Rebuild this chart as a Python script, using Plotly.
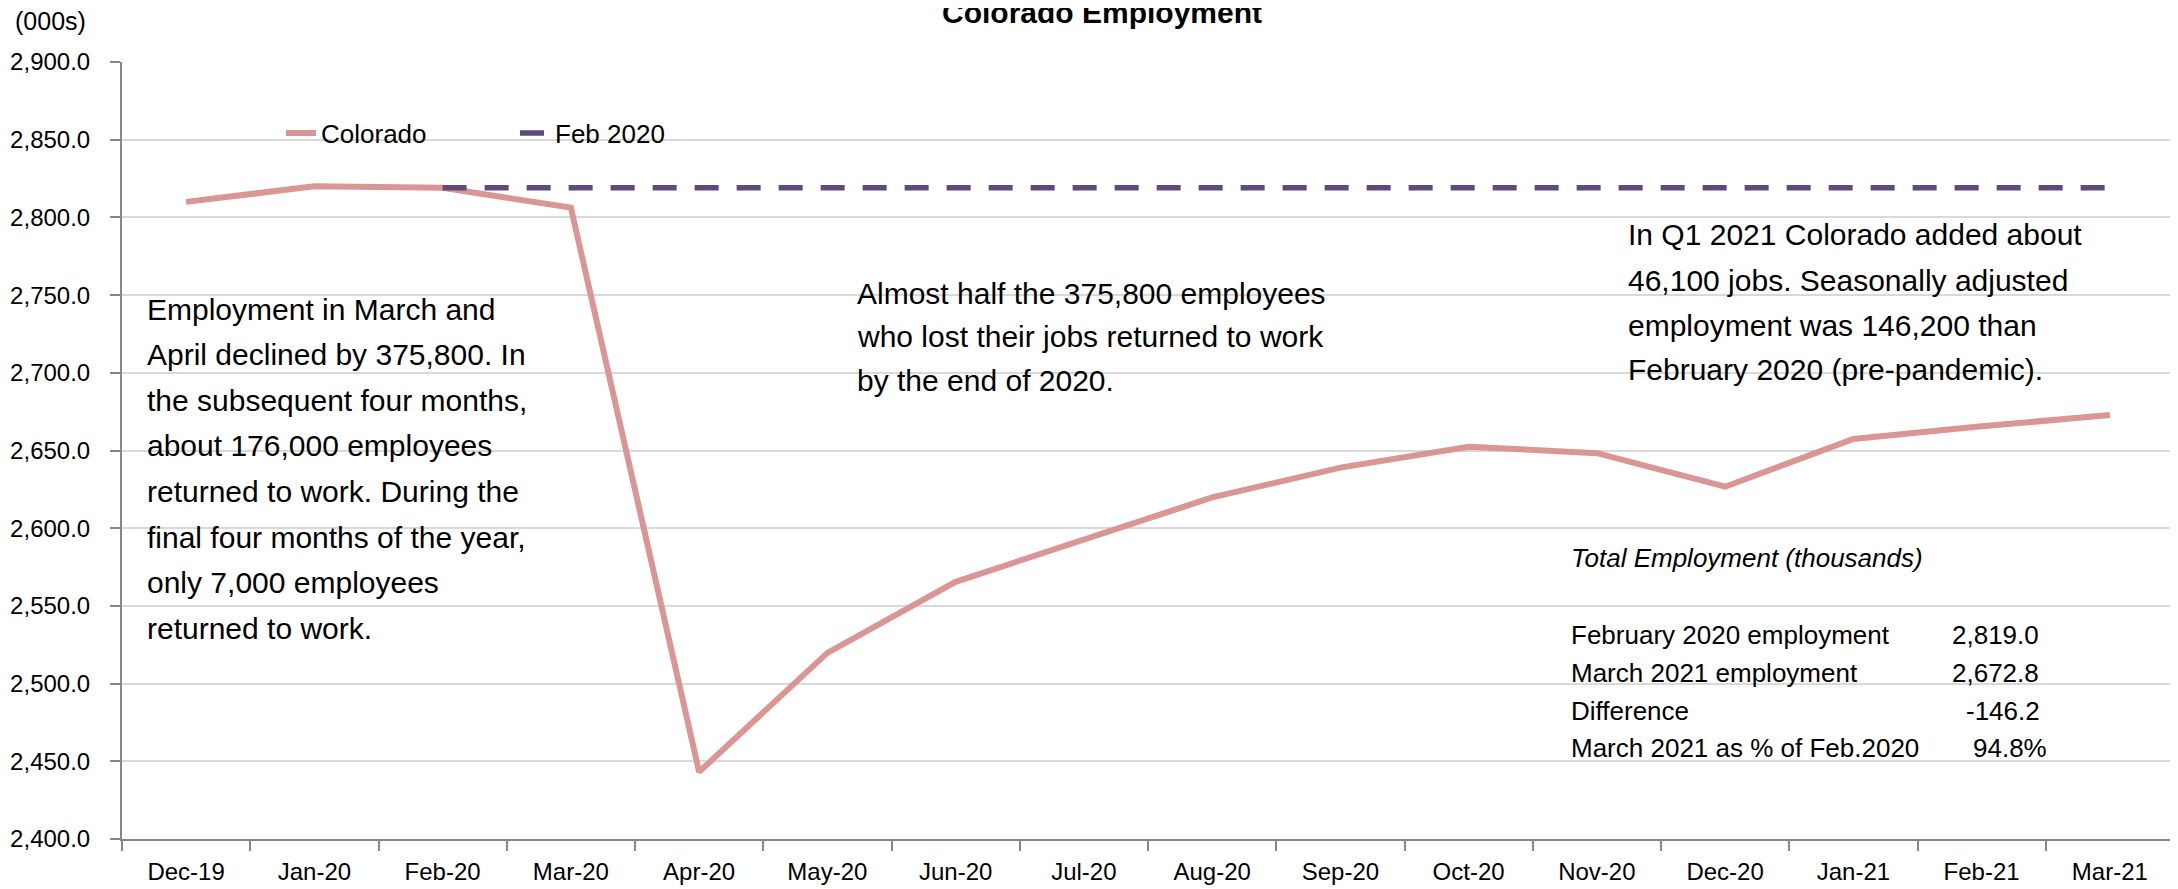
import plotly.graph_objects as go

# ---- data ----
months = ["Dec-19", "Jan-20", "Feb-20", "Mar-20", "Apr-20", "May-20", "Jun-20", "Jul-20",
          "Aug-20", "Sep-20", "Oct-20", "Nov-20", "Dec-20", "Jan-21", "Feb-21", "Mar-21"]
colorado = [2810.0, 2820.0, 2819.0, 2806.3, 2443.2, 2519.8, 2565.5, 2592.6,
            2619.8, 2639.0, 2652.4, 2648.3, 2626.7, 2657.4, 2665.6, 2672.8]
feb2020_months = months[2:]
feb2020_level = [2819.0] * len(feb2020_months)

title_text = "Colorado Employment"
unit_text = "(000s)"
note_left = ["Employment in March and", "April declined by 375,800. In",
             "the subsequent four months,", "about 176,000 employees",
             "returned to work. During the", "final four months of the year,",
             "only 7,000 employees", "returned to work."]
note_mid = ["Almost half the 375,800 employees", "who lost their jobs returned to work",
            "by the end of 2020."]
note_right = ["In Q1 2021 Colorado added about", "46,100 jobs. Seasonally adjusted",
              "employment was 146,200 than", "February 2020 (pre-pandemic)."]
table_title = "Total Employment (thousands)"
table_labels = ["February 2020 employment", "March 2021 employment", "Difference",
                "March 2021 as % of Feb.2020"]
feb_val = colorado[2]
mar_val = colorado[-1]
table_values = [f"{feb_val:,.1f}", f"{mar_val:,.1f}", f"{mar_val - feb_val:,.1f}",
                f"{mar_val / feb_val * 100:.1f}%"]

FONT = "Liberation Sans, Arial, sans-serif"
PINK = "#D99694"
PURPLE = "#604A7B"
AXIS = "#868686"
GRID = "#D9D9D9"

fig = go.Figure()
fig.add_trace(go.Scatter(x=months, y=colorado, mode="lines", name="Colorado",
                         line=dict(color=PINK, width=6)))
fig.add_trace(go.Scatter(x=feb2020_months, y=feb2020_level, mode="lines", name="Feb 2020",
                         line=dict(color=PURPLE, width=5.5, dash="24px,18px")))

W, H = 2178, 889
OFF = 8                      # page body offset of the rendered figure
SL, ST, SR, SB = 122, 62, 2174, 839   # plot box on screen
L, T = SL - OFF, ST - OFF
R = W - (SR - OFF)
B = H - (SB - OFF)
pw = SR - SL
ph = SB - ST

def px(xs):
    return (xs - SL) / pw

def py(ys):
    return 1 - (ys - ST) / ph

def txt(text, x, y, size, xanchor="left", italic=False):
    return dict(text=("<i>%s</i>" % text) if italic else text, xref="paper", yref="paper",
                x=px(x), y=py(y), xanchor=xanchor, yanchor="middle", align="left",
                showarrow=False, font=dict(size=size, color="black", family=FONT))

annotations = [txt(unit_text, 13, 21, 25)]
for lines, x0, y0, dy in [(note_left, 145, 309, 45.6), (note_mid, 855, 293, 43.5),
                          (note_right, 1626, 235, 45.0)]:
    for i, line in enumerate(lines):
        annotations.append(txt(line, x0, y0 + i * dy, 30))
annotations.append(txt(table_title, 1569, 558, 26, italic=True))
row_y = [635, 673, 711, 748]
val_right = [2041, 2041, 2042, 2049]
for lab, val, yc, xr in zip(table_labels, table_values, row_y, val_right):
    annotations.append(txt(lab, 1569, yc, 26))
    annotations.append(txt(val, xr, yc, 26, xanchor="right"))

fig.update_layout(
    width=W, height=H,
    margin=dict(l=L, r=R, t=T, b=B, pad=0),
    paper_bgcolor="white", plot_bgcolor="white",
    font=dict(family=FONT, color="black", size=24),
    title=dict(text="<b>" + title_text + "</b>", x=(1102 - OFF) / W, xanchor="center",
               xref="container", y=1 - (12 - OFF) / H, yref="container", yanchor="middle",
               font=dict(size=30, family=FONT, color="black")),
    showlegend=True,
    legend=dict(orientation="h", x=px(281), y=py(133), xanchor="left", yanchor="middle",
                font=dict(size=26, family=FONT, color="black"), bgcolor="rgba(0,0,0,0)",
                itemwidth=30, entrywidth=189, traceorder="normal"),
    annotations=annotations,
)
fig.update_xaxes(type="category", range=[-0.5, len(months) - 0.5], automargin=False,
                 showline=True, linecolor=AXIS, linewidth=2,
                 ticks="outside", tickson="boundaries", ticklen=10, tickcolor=AXIS, tickwidth=2,
                 showgrid=False, tickfont=dict(size=24, family=FONT, color="black"),
                 ticklabelstandoff=10)
fig.update_yaxes(range=[2400, 2900], dtick=50, tickformat=",.1f", automargin=False,
                 showline=True, linecolor=AXIS, linewidth=2,
                 ticks="outside", ticklen=10, tickcolor=AXIS, tickwidth=2,
                 showgrid=True, gridcolor=GRID, gridwidth=2, zeroline=False,
                 tickfont=dict(size=24, family=FONT, color="black"),
                 ticklabelstandoff=15)

fig.write_html("out.html")
